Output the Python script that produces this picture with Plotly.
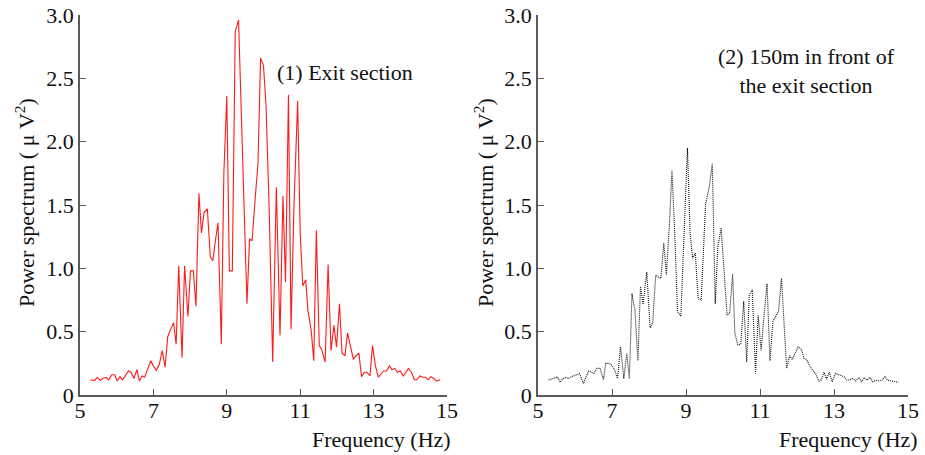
import plotly.graph_objects as go

# Power spectrum at the exit section (red, solid)
freq_exit = [5.28, 5.35, 5.40, 5.47, 5.55, 5.62, 5.71, 5.78, 5.87, 5.95, 6.01, 6.09, 6.16, 6.24,
             6.32, 6.39, 6.47, 6.55, 6.62, 6.69, 6.76, 6.85, 6.93, 7.00, 7.08, 7.16, 7.24, 7.32,
             7.39, 7.46, 7.55, 7.62, 7.69, 7.78, 7.85, 7.94, 8.01, 8.09, 8.16, 8.24, 8.31, 8.38,
             8.47, 8.55, 8.62, 8.69, 8.76, 8.85, 8.92, 9.00, 9.07, 9.15, 9.23, 9.32, 9.44, 9.55,
             9.62, 9.69, 9.77, 9.85, 9.92, 10.00, 10.07, 10.16, 10.25, 10.35, 10.45, 10.53, 10.60,
             10.68, 10.75, 10.83, 10.93, 11.00, 11.07, 11.15, 11.21, 11.30, 11.37, 11.44, 11.52,
             11.59, 11.68, 11.76, 11.84, 11.92, 11.99, 12.07, 12.14, 12.22, 12.29, 12.37, 12.45,
             12.52, 12.60, 12.67, 12.75, 12.82, 12.90, 12.97, 13.05, 13.13, 13.20, 13.27, 13.35,
             13.43, 13.50, 13.58, 13.65, 13.73, 13.81, 13.88, 13.95, 14.03, 14.11, 14.18, 14.26,
             14.34, 14.41, 14.49, 14.56, 14.64, 14.72, 14.81]
power_exit = [0.118, 0.12, 0.116, 0.14, 0.116, 0.13, 0.14, 0.12, 0.16, 0.16, 0.11, 0.145, 0.12, 0.155,
              0.19, 0.18, 0.13, 0.20, 0.11, 0.15, 0.14, 0.21, 0.27, 0.23, 0.195, 0.24, 0.35, 0.22,
              0.46, 0.51, 0.57, 0.40, 1.02, 0.295, 1.02, 0.62, 0.98, 0.98, 0.70, 1.59, 1.28, 1.44,
              1.47, 1.09, 1.06, 1.22, 1.36, 0.40, 1.75, 2.36, 0.98, 0.98, 2.87, 2.96, 1.86, 0.72,
              1.23, 1.22, 1.54, 1.83, 2.66, 2.60, 2.28, 1.41, 0.26, 1.64, 0.47, 1.57, 0.89,
              2.37, 0.52, 1.49, 2.32, 1.28, 0.86, 0.91, 0.67, 0.51, 0.27, 1.30, 0.39,
              0.355, 0.26, 1.03, 0.35, 0.55, 0.38, 0.72, 0.33, 0.31, 0.49, 0.37, 0.28,
              0.31, 0.33, 0.145, 0.18, 0.18, 0.15, 0.39, 0.23, 0.14, 0.165, 0.19, 0.19,
              0.23, 0.20, 0.21, 0.18, 0.19, 0.15, 0.18, 0.21, 0.18, 0.12, 0.12, 0.15,
              0.14, 0.14, 0.12, 0.145, 0.13, 0.11, 0.12]

# Power spectrum 150 m in front of the exit section (black, dotted)
freq_front = [5.29, 5.38, 5.47, 5.53, 5.60, 5.68, 5.75, 5.82, 5.90, 5.97, 6.05, 6.12, 6.23, 6.30,
              6.37, 6.45, 6.51, 6.59, 6.68, 6.77, 6.83, 6.90, 6.98, 7.07, 7.15, 7.23, 7.32, 7.40,
              7.47, 7.54, 7.62, 7.70, 7.77, 7.84, 7.94, 8.03, 8.10, 8.18, 8.26, 8.32, 8.40, 8.47,
              8.55, 8.62, 8.69, 8.77, 8.86, 8.94, 9.04, 9.11, 9.18, 9.25, 9.33, 9.41, 9.53, 9.64,
              9.71, 9.79, 9.86, 9.95, 10.03, 10.11, 10.18, 10.26, 10.32, 10.40, 10.48, 10.56,
              10.64, 10.71, 10.79, 10.88, 10.95, 11.03, 11.10, 11.19, 11.27, 11.35, 11.42, 11.50,
              11.58, 11.72, 11.80, 11.87, 12.03, 12.12, 12.19, 12.26, 12.36, 12.43, 12.51, 12.59,
              12.66, 12.73, 12.80, 12.87, 12.95, 13.04, 13.12, 13.19, 13.27, 13.34, 13.42, 13.50,
              13.59, 13.67, 13.74, 13.82, 13.89, 13.97, 14.05, 14.14, 14.22, 14.30, 14.38, 14.45,
              14.54, 14.61, 14.74]
power_front = [0.118, 0.126, 0.137, 0.142, 0.10, 0.13, 0.14, 0.13, 0.145, 0.15, 0.16, 0.17, 0.09, 0.145,
               0.19, 0.18, 0.17, 0.21, 0.21, 0.12, 0.25, 0.25, 0.24, 0.20, 0.13, 0.38, 0.13, 0.33,
               0.126, 0.80, 0.67, 0.27, 0.855, 0.715, 0.97, 0.53, 0.57, 0.945, 0.93, 0.92, 1.20, 0.95,
               1.34, 1.77, 1.32, 0.66, 0.62, 1.28, 1.95, 1.28, 1.08, 1.12, 0.76, 0.75, 1.51, 1.66,
               1.83, 0.72, 1.17, 1.32, 0.99, 0.63, 0.65, 0.955, 0.49, 0.395, 0.40, 0.74,
               0.26, 0.79, 0.83, 0.17, 0.63, 0.35, 0.60, 0.88, 0.27, 0.58, 0.62, 0.66,
               0.92, 0.21, 0.31, 0.28, 0.38, 0.36, 0.29, 0.28, 0.22, 0.19, 0.165, 0.11,
               0.12, 0.18, 0.124, 0.18, 0.105, 0.17, 0.16, 0.15, 0.145, 0.118, 0.118, 0.13,
               0.11, 0.14, 0.105, 0.137, 0.118, 0.14, 0.105, 0.116, 0.11, 0.118, 0.145, 0.116,
               0.11, 0.11, 0.10]

x_ticks = [5, 7, 9, 11, 13, 15]
y_ticks = [0, 0.5, 1.0, 1.5, 2.0, 2.5, 3.0]
y_tick_labels = ["0", "0.5", "1.0", "1.5", "2.0", "2.5", "3.0"]

FONT = "Liberation Serif"
FS = 22
AXIS_GRAY = "#5a5a5a"

fig = go.Figure()
fig.add_trace(go.Scatter(x=freq_exit, y=power_exit, mode="lines",
                         line=dict(color="#ff1a1a", width=1.1),
                         xaxis="x", yaxis="y", showlegend=False))
fig.add_trace(go.Scatter(x=freq_front, y=power_front, mode="lines",
                         line=dict(color="#111111", width=1.1, dash="1px,1px"),
                         xaxis="x2", yaxis="y2", showlegend=False))

W, H = 925, 455
y_dom = [(H - 395) / H, (H - 15) / H]

xax = dict(range=[5, 15], tickvals=x_ticks, ticks="inside", ticklen=6, tickwidth=1.3,
           tickcolor=AXIS_GRAY, showline=True, linecolor=AXIS_GRAY, linewidth=1.5,
           showgrid=False, zeroline=False, automargin=False, ticklabelstandoff=-5,
           tickfont=dict(family=FONT, size=FS, color="#111"), fixedrange=True)
yax = dict(range=[0, 3.0], tickvals=y_ticks, ticktext=y_tick_labels, ticks="inside",
           ticklen=6, tickwidth=1.3, tickcolor=AXIS_GRAY, showline=True, linecolor=AXIS_GRAY,
           linewidth=1.5, showgrid=False, zeroline=False, automargin=False,
           tickfont=dict(family=FONT, size=FS, color="#111"), domain=y_dom, fixedrange=True)

fig.update_layout(
    width=W, height=H,
    margin=dict(l=0, r=0, t=0, b=0, autoexpand=False),
    paper_bgcolor="white", plot_bgcolor="white",
    font=dict(family=FONT, color="#111"),
    xaxis=dict(xax, domain=[80 / W, 447 / W], anchor="y"),
    yaxis=dict(yax, anchor="x"),
    xaxis2=dict(xax, domain=[538 / W, 908 / W], anchor="y2"),
    yaxis2=dict(yax, anchor="x2"),
)

ylabel = "Power spectrum ( \u03bc V<sup>2</sup>)"
annotations = [
    dict(text=ylabel, x=25 / W, y=1 - 203 / H, textangle=-90),
    dict(text=ylabel, x=484 / W, y=1 - 203 / H, textangle=-90),
    dict(text="Frequency (Hz)", x=453 / W, y=1 - 439 / H, xanchor="right"),
    dict(text="Frequency (Hz)", x=920 / W, y=1 - 439 / H, xanchor="right"),
    dict(text="(1) Exit section", x=275 / W, y=1 - 72 / H, xanchor="left"),
    dict(text="(2) 150m in front of<br>the exit section", x=806 / W, y=1 - 71 / H,
         align="center"),
]
for a in annotations:
    a.setdefault("xanchor", "center")
    fig.add_annotation(xref="paper", yref="paper", showarrow=False, yanchor="middle",
                       font=dict(family=FONT, size=FS, color="#111"), **a)

fig.write_html("out.html")
